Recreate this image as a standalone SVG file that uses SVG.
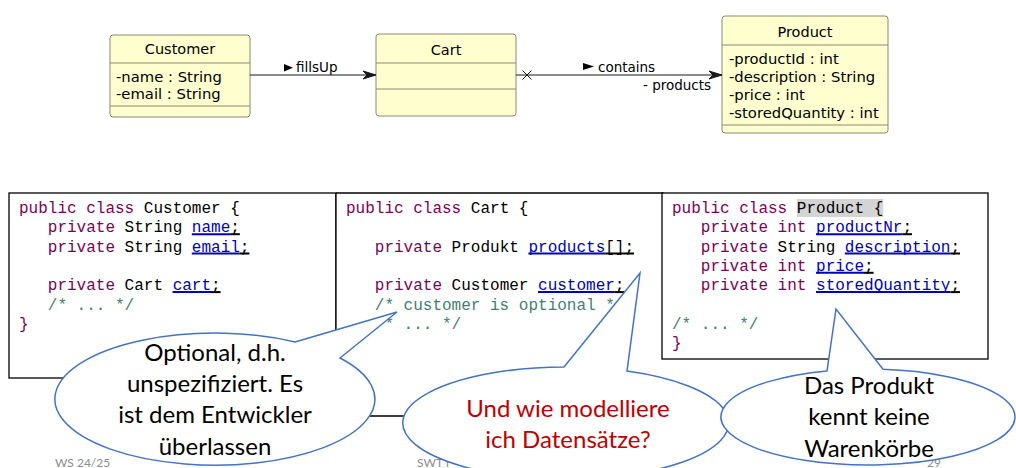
<svg xmlns="http://www.w3.org/2000/svg" width="1016" height="468" viewBox="0 0 1016 468">
<style>
.cls{fill:#FEFECE;stroke:#8a8a78;stroke-width:1}
.sep{stroke:#8a8a78;stroke-width:1}
.uh{font-family:"DejaVu Sans",sans-serif;font-size:14.5px;fill:#000;text-anchor:middle}
.ua{font-family:"DejaVu Sans",sans-serif;font-size:14.8px;fill:#000}
.lb{font-family:"DejaVu Sans",sans-serif;font-size:13.5px;fill:#000}
.edge{stroke:#181818;stroke-width:1;fill:none}
.box{fill:#fff;stroke:#000;stroke-width:1.3}
.code{font-family:"Liberation Mono","Courier New",monospace;font-size:16px;fill:#000}
.k{fill:#7F0055}
.c{fill:#3F7F70}
.f{fill:#0000C0}
.ub{stroke:#0000C0;stroke-width:2}
.uk{stroke:#000;stroke-width:2}
.co{fill:#fff;stroke:#4472C4;stroke-width:1.5}
.ct{font-family:Lato,"Open Sans",sans-serif;font-size:24px;fill:#000;text-anchor:middle}
.red{fill:#C00000}
.ft{font-family:Lato,"Open Sans",sans-serif;font-size:12px;fill:#8c8c8c}
</style>
<defs>
<marker id="ah" viewBox="0 0 14 10" refX="13" refY="5" markerWidth="14" markerHeight="10" markerUnits="userSpaceOnUse" orient="auto">
<path d="M0,1 L13,5 L0,9 L4,5 Z" fill="#181818" stroke="#181818" stroke-width="1"/>
</marker>
</defs>

<!-- UML classes -->
<g id="customer">
<rect class="cls" x="110" y="35" width="140" height="82" rx="3"/>
<line class="sep" x1="110" y1="63" x2="250" y2="63"/>
<line class="sep" x1="110" y1="106" x2="250" y2="106"/>
<text class="uh" x="180" y="54">Customer</text>
<text class="ua" x="116" y="81.5">-name : String</text>
<text class="ua" x="116" y="99">-email : String</text>
</g>
<g id="cart">
<rect class="cls" x="376" y="34" width="140" height="82" rx="3"/>
<line class="sep" x1="376" y1="63" x2="516" y2="63"/>
<line class="sep" x1="376" y1="89" x2="516" y2="89"/>
<text class="uh" x="446" y="54.5">Cart</text>
</g>
<g id="product">
<rect class="cls" x="722" y="16" width="166" height="117" rx="3"/>
<line class="sep" x1="722" y1="45" x2="888" y2="45"/>
<line class="sep" x1="722" y1="125" x2="888" y2="125"/>
<text class="uh" x="805" y="37">Product</text>
<text class="ua" x="729" y="64">-productId : int</text>
<text class="ua" x="729" y="82">-description : String</text>
<text class="ua" x="729" y="100">-price : int</text>
<text class="ua" x="729" y="118">-storedQuantity : int</text>
</g>

<g id="connectors">
<line class="edge" x1="250" y1="75" x2="376" y2="75" marker-end="url(#ah)"/>
<polygon points="284,64 293,67.7 284,71.4" fill="#000"/>
<text class="lb" x="296" y="72">fillsUp</text>
<line class="edge" x1="516" y1="75" x2="722" y2="75" marker-end="url(#ah)"/>
<path class="edge" d="M522.5,70.5 L531.5,79.5 M522.5,79.5 L531.5,70.5"/>
<polygon points="583,63 594,66.5 583,70" fill="#000"/>
<text class="lb" x="598" y="72">contains</text>
<text class="lb" x="643" y="89.5">- products</text>
</g>

<!-- Code boxes -->
<g id="code-customer">
<rect class="box" x="9" y="193" width="327" height="185"/>
<text class="code" xml:space="preserve" x="19" y="213"><tspan class="k">public class</tspan> Customer {</text>
<text class="code" xml:space="preserve" x="47.8" y="232.3"><tspan class="k">private</tspan> String <tspan class="f">name</tspan>;</text>
<text class="code" xml:space="preserve" x="47.8" y="251.6"><tspan class="k">private</tspan> String <tspan class="f">email</tspan>;</text>
<text class="code" xml:space="preserve" x="47.8" y="290.2"><tspan class="k">private</tspan> Cart <tspan class="f">cart</tspan>;</text>
<text class="code c" x="47.8" y="309.5">/* ... */</text>
<text class="code k" x="19" y="328.8">}</text>
<line class="ub" x1="191.8" y1="234.2" x2="230.2" y2="234.2"/>
<line class="uk" x1="230.2" y1="234.2" x2="239.8" y2="234.2"/>
<line class="ub" x1="191.8" y1="253.5" x2="239.8" y2="253.5"/>
<line class="uk" x1="239.8" y1="253.5" x2="249.4" y2="253.5"/>
<line class="ub" x1="172.6" y1="292.1" x2="211" y2="292.1"/>
<line class="uk" x1="211" y1="292.1" x2="220.6" y2="292.1"/>
</g>
<g id="code-cart">
<path class="box" fill="none" d="M336,193 H663 V359 M336,193 V416 H663"/>
<text class="code" xml:space="preserve" x="346" y="213"><tspan class="k">public class</tspan> Cart {</text>
<text class="code" xml:space="preserve" x="374.8" y="251.6"><tspan class="k">private</tspan> Produkt <tspan class="f">products</tspan>[];</text>
<text class="code" xml:space="preserve" x="374.8" y="290.2"><tspan class="k">private</tspan> Customer <tspan class="f">customer</tspan>;</text>
<text class="code c" xml:space="preserve" x="374.8" y="309.5">/* customer is optional */</text>
<text class="code c" xml:space="preserve" x="374.8" y="328.8">/* ... */</text>
<line class="ub" x1="528.4" y1="253.5" x2="605.2" y2="253.5"/>
<line class="uk" x1="605.2" y1="253.5" x2="634" y2="253.5"/>
<line class="ub" x1="538" y1="292.1" x2="614.8" y2="292.1"/>
<line class="uk" x1="614.8" y1="292.1" x2="624.4" y2="292.1"/>
</g>
<g id="code-product">
<rect class="box" x="662" y="193" width="326" height="166"/>
<rect x="796.8" y="199" width="86.4" height="18" fill="#d4d4d4"/>
<text class="code" xml:space="preserve" x="672" y="213"><tspan class="k">public class</tspan> Product {</text>
<text class="code" xml:space="preserve" x="700.8" y="232.3"><tspan class="k">private int</tspan> <tspan class="f">productNr</tspan>;</text>
<text class="code" xml:space="preserve" x="700.8" y="251.6"><tspan class="k">private</tspan> String <tspan class="f">description</tspan>;</text>
<text class="code" xml:space="preserve" x="700.8" y="270.9"><tspan class="k">private int</tspan> <tspan class="f">price</tspan>;</text>
<text class="code" xml:space="preserve" x="700.8" y="290.2"><tspan class="k">private int</tspan> <tspan class="f">storedQuantity</tspan>;</text>
<text class="code c" x="672" y="328.8">/* ... */</text>
<text class="code k" x="672" y="348.1">}</text>
<line class="ub" x1="816" y1="234.2" x2="902.4" y2="234.2"/>
<line class="uk" x1="902.4" y1="234.2" x2="912" y2="234.2"/>
<line class="ub" x1="844.8" y1="253.5" x2="950.4" y2="253.5"/>
<line class="uk" x1="950.4" y1="253.5" x2="960" y2="253.5"/>
<line class="ub" x1="816" y1="272.8" x2="864" y2="272.8"/>
<line class="uk" x1="864" y1="272.8" x2="873.6" y2="272.8"/>
<line class="ub" x1="816" y1="292.1" x2="950.4" y2="292.1"/>
<line class="uk" x1="950.4" y1="292.1" x2="960" y2="292.1"/>
</g>

<!-- footer -->
<g id="footer">
<text class="ft" x="55" y="467">WS 24/25</text>
<text class="ft" x="417" y="467">SWT I</text>
<text class="ft" x="927" y="467">29</text>
</g>

<!-- callouts -->
<g id="callout-optional">
<path class="co" d="M295,342 L397,312 L340,358 A160,66 0 1 1 295,342 Z"/>
<text class="ct" x="215" y="361">Optional, d.h.</text>
<text class="ct" x="215" y="392">unspezifiziert. Es</text>
<text class="ct" x="215" y="423">ist dem Entwickler</text>
<text class="ct" x="215" y="455">überlassen</text>
</g>
<g id="callout-datensaetze">
<path class="co" d="M564,367 L640,273 L627,371.1 A163,56 0 1 1 564,367 Z"/>
<text class="ct red" x="568" y="417">Und wie modelliere</text>
<text class="ct red" x="568" y="448">ich Datensätze?</text>
</g>
<g id="callout-produkt">
<path class="co" d="M827,370.9 L836,309 L883,369.25 A147,48 0 1 1 827,370.9 Z"/>
<text class="ct" x="869" y="394">Das Produkt</text>
<text class="ct" x="869" y="425">kennt keine</text>
<text class="ct" x="869" y="457">Warenkörbe</text>
</g>
</svg>
